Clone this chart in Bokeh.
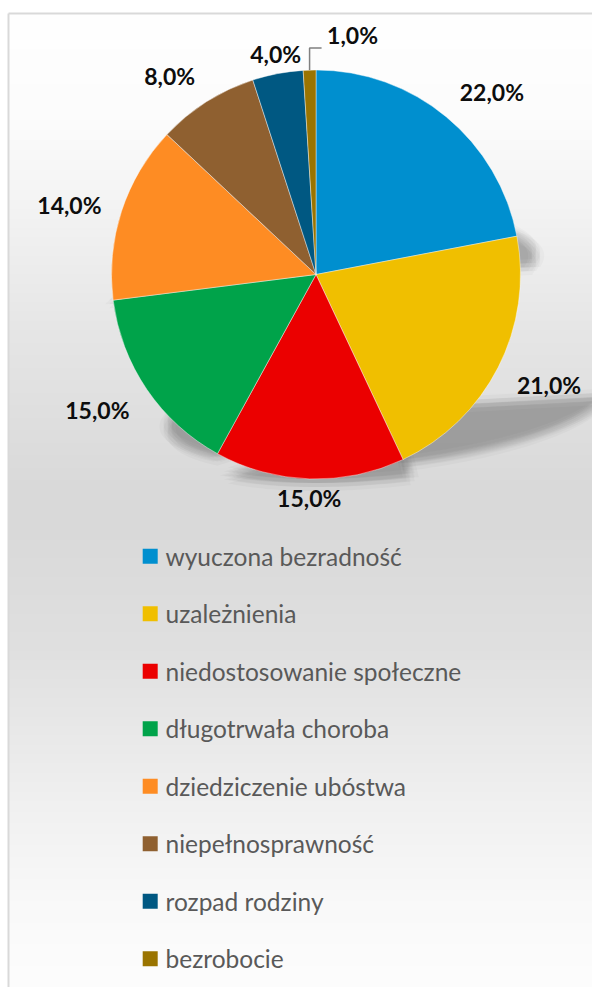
import numpy as np
from bokeh.plotting import figure
from bokeh.models import Range1d, ColumnDataSource
from bokeh.core.properties import value
from bokeh.embed import file_html
from bokeh.resources import INLINE

# ---------------- data ----------------
categories = ["wyuczona bezradność", "uzależnienia", "niedostosowanie społeczne",
              "długotrwała choroba", "dziedziczenie ubóstwa", "niepełnosprawność",
              "rozpad rodziny", "bezrobocie"]
shares = [22.0, 21.0, 15.0, 15.0, 14.0, 8.0, 4.0, 1.0]

# ---------------- styles ----------------
slice_colors = ["#008FCF", "#F0BF00", "#EB0000", "#00A34A",
                "#FE8C23", "#8F6030", "#005882", "#9A7400"]
W, H = 592, 987


def X(px):  # page pixel -> data x
    return px


def Y(py):  # page pixel -> data y
    return H - py


CX, CY, R = X(315.5), Y(274), 204.5

p = figure(width=W, height=H, x_range=Range1d(0, W), y_range=Range1d(0, H),
           output_backend="svg", toolbar_location=None, min_border=0,
           x_axis_type=None, y_axis_type=None)
p.outline_line_color = None
p.grid.visible = False
p.background_fill_color = "white"
p.border_fill_color = "white"

# ---------------- background gradient ----------------
stops_y = [13, 120, 200, 330, 480, 520, 650, 800, 900, 987]
stops_v = [255, 252, 244, 230, 218, 217, 224, 240, 249, 253]
top_y = 13
nrows = H - top_y
page_y = H - 0.5 - np.arange(nrows)
vals = np.interp(page_y, stops_y, stops_v).astype(np.uint8)
img = np.empty((nrows, 1), dtype=np.uint32)
view = img.view(dtype=np.uint8).reshape((nrows, 1, 4))
view[:, 0, 0] = vals
view[:, 0, 1] = vals
view[:, 0, 2] = vals
view[:, 0, 3] = 255
p.image_rgba(image=[img], x=X(8), y=0, dw=W - 8, dh=nrows)

# border of chart area
p.segment(x0=[X(8), X(8)], y0=[0, Y(top_y)], x1=[X(8), W], y1=[Y(top_y), Y(top_y)],
          line_color="#D9D9D9", line_width=2)

# ---------------- pie geometry ----------------
cum = np.concatenate([[0.0], np.cumsum(shares)])
total = cum[-1]
start = np.radians(90 - cum[:-1] / total * 360)
end = np.radians(90 - cum[1:] / total * 360)

# ---------------- perspective shadows (per slice, blurred) ----------------
sx, sy = [], []
offsets = [(dx, dy) for dx in (-8, -4, 0, 4, 8) for dy in (-8, -4, 0, 4, 8)
           if dx * dx + dy * dy <= 70]
for a0, a1 in zip(start, end):
    t = np.linspace(a0, a1, 60)
    px = np.concatenate([[CX], CX + R * np.cos(t)])
    py = np.concatenate([[CY], CY + R * np.sin(t)])
    yb = py.min()
    h = py - yb
    qx = px + 0.4 * h
    qy = yb + 0.3 * h
    for dx, dy in offsets:
        sx.append(list(qx + dx))
        sy.append(list(qy + dy - 4))
p.patches(xs=sx, ys=sy, fill_color="black", fill_alpha=0.024, line_color=None)

# ---------------- slices ----------------
src = ColumnDataSource(dict(start=start, end=end, color=slice_colors, name=categories))
p.wedge(x=CX, y=CY, radius=R, start_angle="start", end_angle="end",
        direction="clock", fill_color="color", line_color="white",
        line_width=0.7, line_alpha=0.6, source=src)

# ---------------- data labels ----------------
lab_font = value("Lato")
for v, a0, a1 in zip(shares, start, end):
    txt = f"{v:.1f}".replace(".", ",") + "%"
    mid = (a0 + a1) / 2
    c, s = np.cos(mid), np.sin(mid)
    if v < 2:
        # small slice: label with leader line
        x0, y0 = CX + R * c, CY + R * s
        xe, ye = x0, y0 + 22
        xf = xe + 12
        p.line(x=[x0, xe, xf], y=[y0, ye, ye], line_color="#808080", line_width=1.5)
        p.text(x=[xf + 5.5], y=[ye + 13.3], text=[txt], text_font=lab_font,
               text_font_style="bold", text_font_size="23px", text_color="#0D0D0D",
               text_align="left", text_baseline="middle")
        continue
    if c > 0.3:
        align = "left"
    elif c < -0.3:
        align = "right"
    else:
        align = "center"
    d = 21 if align != "center" else 11
    lx, ly = CX + (R + d) * c, CY + (R + d) * s
    if s > 0.4:
        ly += 8.5
    elif s < -0.4:
        ly -= 8.5
    p.text(x=[lx], y=[ly], text=[txt], text_font=lab_font,
           text_font_style="bold", text_font_size="23px", text_color="#0D0D0D",
           text_align=align, text_baseline="middle")

# ---------------- legend ----------------
leg_top, leg_step = 555.7, 57.5
ly = [Y(leg_top + i * leg_step) for i in range(len(categories))]
p.rect(x=[X(149.7)] * len(categories), y=ly, width=15, height=15,
       fill_color=slice_colors, line_color=None)
p.text(x=[X(165)] * len(categories), y=ly, text=categories, text_font=value("Lato"),
       text_font_size="24.5px", text_color="#595959", text_align="left",
       text_baseline="middle")

open("out.html", "w").write(file_html(p, INLINE))
